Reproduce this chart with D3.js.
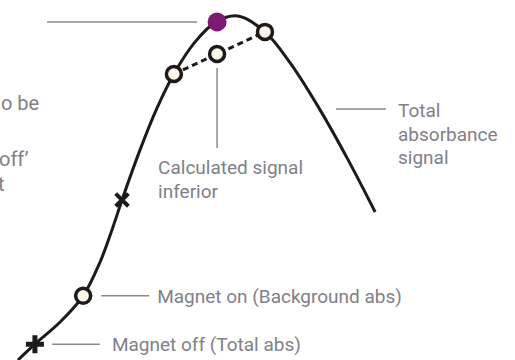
<!DOCTYPE html>
<html>
<head>
<meta charset="utf-8">
<script src="https://cdn.jsdelivr.net/npm/d3@7"></script>
<style>
    body { margin: 0; background: #fff; }
    svg text { font-family: Roboto, "Noto Sans", sans-serif; fill: #808089; }
    .label { font-size: 19px; }
    .body-text { font-size: 20px; }
    .leader { stroke: #8a8a8a; stroke-width: 1.5; fill: none; }
</style>
</head>
<body>
<svg id="chart" width="515" height="360"></svg>
<script>
// total absorbance signal curve (time vs absorbance, arbitrary units)
const curve_x = [0, 0.47, 1.17, 1.81, 2.28, 2.61, 2.89, 3.39, 3.86, 4.33, 4.92, 5.5, 6.11, 6.86, 7.56, 8.39, 9.17, 9.92];
const curve_y = [0, 0.046, 0.11, 0.186, 0.284, 0.377, 0.464, 0.609, 0.73, 0.829, 0.922, 0.98, 0.997, 0.951, 0.861, 0.725, 0.58, 0.429];

// measurement points
const off_x = [0.47, 2.89];           // magnet off (total abs)
const off_y = [0.046, 0.464];
const on_x = [1.81, 4.33, 6.86];      // magnet on (background abs)
const on_y = [0.186, 0.829, 0.951];
const calc_x = [4.33, 5.53, 6.86];    // calculated signal (inferior)
const calc_y = [0.829, 0.887, 0.951];
const peak_x = [5.53];
const peak_y = [0.98];

const labels = ["Total", "absorbance", "signal"];
const calc_labels = ["Calculated signal", "inferior"];
const body_lines = ["o be", "off’", "t"];

const svg = d3.select("#chart");

const x = d3.scaleLinear().domain([0, 10]).range([18, 378]),
      y = d3.scaleLinear().domain([0, 1]).range([360, 15]);

const line = d3.line()
    .x(d => x(d[0]))
    .y(d => y(d[1]))
    .curve(d3.curveCatmullRom.alpha(0.5));

// body text cut by the crop on the left
svg.selectAll("text.body-text")
    .data(body_lines)
    .enter()
    .append("text")
    .classed("body-text", true)
    .attr("x", (d, i) => [1, -1, -2][i])
    .attr("y", (d, i) => [110, 166, 191][i])
    .text(d => d);

// leader lines + labels
const lead = svg.append("g");
lead.append("line").classed("leader", true)
    .attr("x1", x(peak_x[0]) - 170).attr("x2", x(peak_x[0]) - 20)
    .attr("y1", y(peak_y[0])).attr("y2", y(peak_y[0]));

lead.append("line").classed("leader", true)
    .attr("x1", x(calc_x[1])).attr("x2", x(calc_x[1]))
    .attr("y1", y(calc_y[1]) + 14).attr("y2", y(calc_y[1]) + 94);
lead.selectAll("text.calc")
    .data(calc_labels)
    .enter()
    .append("text")
    .classed("label", true)
    .attr("x", x(calc_x[1]) - 59)
    .attr("y", (d, i) => y(calc_y[1]) + 120 + i * 24)
    .text(d => d);

lead.append("line").classed("leader", true)
    .attr("x1", 336).attr("x2", 386)
    .attr("y1", 109).attr("y2", 109);
lead.selectAll("text.total")
    .data(labels)
    .enter()
    .append("text")
    .classed("label", true)
    .attr("x", 398)
    .attr("y", (d, i) => 117 + i * 23.5)
    .text(d => d);

lead.append("line").classed("leader", true)
    .attr("x1", x(on_x[0]) + 18).attr("x2", x(on_x[0]) + 66)
    .attr("y1", y(on_y[0])).attr("y2", y(on_y[0]));
lead.append("text").classed("label", true)
    .attr("x", x(on_x[0]) + 74).attr("y", y(on_y[0]) + 7)
    .text("Magnet on (Background abs)");

lead.append("line").classed("leader", true)
    .attr("x1", x(off_x[0]) + 17).attr("x2", x(off_x[0]) + 65)
    .attr("y1", y(off_y[0])).attr("y2", y(off_y[0]));
lead.append("text").classed("label", true)
    .attr("x", x(off_x[0]) + 77).attr("y", y(off_y[0]) + 7)
    .text("Magnet off (Total abs)");

// main curve
svg.append("path")
    .datum(d3.zip(curve_x, curve_y))
    .attr("d", line)
    .attr("fill", "none")
    .attr("stroke", "#1c1a1a")
    .attr("stroke-width", 3);

// dashed calculated signal
svg.append("path")
    .datum(d3.zip(calc_x, calc_y))
    .attr("d", d3.line().x(d => x(d[0])).y(d => y(d[1])))
    .attr("fill", "none")
    .attr("stroke", "#1c1a1a")
    .attr("stroke-width", 3)
    .attr("stroke-dasharray", "6,4");

// magnet off markers: plus at the start, cross further up
svg.selectAll("path.off-mark")
    .data(d3.zip(off_x, off_y))
    .enter()
    .append("path")
    .classed("off-mark", true)
    .attr("transform", (d, i) => `translate(${x(d[0])}, ${y(d[1])}) rotate(${i === 0 ? 0 : 45})`)
    .attr("d", "M-9,0H9M0,-9V9")
    .attr("stroke", "#1c1a1a")
    .attr("stroke-width", (d, i) => i === 0 ? 5 : 4);

// open circles
svg.selectAll("circle.open")
    .data(d3.zip(on_x.concat([calc_x[1]]), on_y.concat([calc_y[1]])))
    .enter()
    .append("circle")
    .classed("open", true)
    .attr("cx", d => x(d[0]))
    .attr("cy", d => y(d[1]))
    .attr("r", 7.5)
    .attr("fill", "#fcf5e8")
    .attr("stroke", "#1c1a1a")
    .attr("stroke-width", 3.5);

// peak of the true signal
svg.selectAll("circle.peak")
    .data(d3.zip(peak_x, peak_y))
    .enter()
    .append("circle")
    .classed("peak", true)
    .attr("cx", d => x(d[0]))
    .attr("cy", d => y(d[1]))
    .attr("r", 9.5)
    .attr("fill", "#7b1a70");
</script>
</body>
</html>
